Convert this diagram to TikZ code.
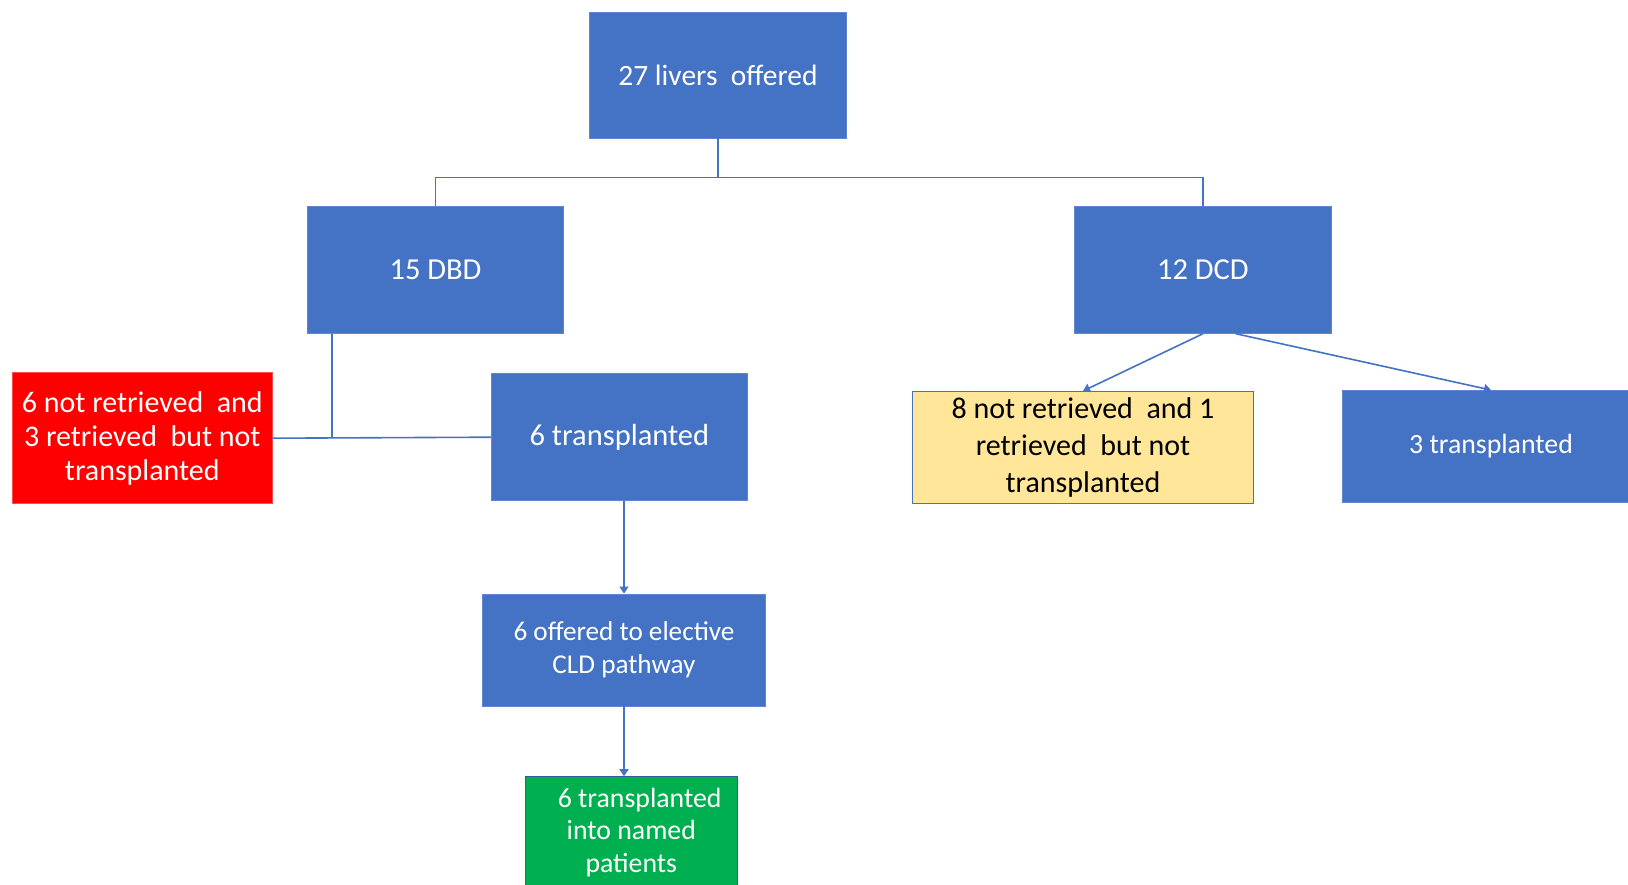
\documentclass[tikz,border=0pt]{standalone}
\usepackage{fontspec}
\setmainfont{Carlito}
\usetikzlibrary{arrows.meta}
\definecolor{obl}{HTML}{4472C4}
\definecolor{oedge}{HTML}{5F86CE}
\definecolor{ored}{HTML}{FF0000}
\definecolor{oyel}{HTML}{FFE699}
\definecolor{ogrn}{HTML}{00B050}
\tikzset{
  bluebox/.style={rectangle, inner sep=0pt, fill=obl, draw=oedge, line width=0.8pt, text=white, align=center, font=\fontsize{30}{34}\selectfont},
  redbox/.style={bluebox, fill=ored, draw=ored!70!white},
  yelbox/.style={bluebox, fill=oyel, draw=obl, text=black, font=\fontsize{30}{37}\selectfont},
  grnbox/.style={bluebox, fill=ogrn, draw=obl!80!black, font=\fontsize{27.8}{32.5}\selectfont},
  conn/.style={draw=obl, line width=1.6pt},
  arr/.style={conn, -{Triangle[length=7pt,width=9pt]}}
}
\begin{document}
\begin{tikzpicture}[x=1pt,y=-1pt]
\useasboundingbox (0,0) rectangle (1628,885);
\clip (0,0) rectangle (1628,885);
\fill[white] (0,0) rectangle (1628,885);

\node[bluebox, minimum width=256.5pt, minimum height=125.6pt, font=\fontsize{29.5}{34}\selectfont] (top) at (718,75.3) {27 livers\ \ offered};
\node[bluebox, minimum width=256.5pt, minimum height=126.7pt, font=\fontsize{30.5}{34}\selectfont] (dbd) at (435.5,270) {15 DBD};
\node[bluebox, minimum width=256.5pt, minimum height=126.7pt, font=\fontsize{30.5}{34}\selectfont] (dcd) at (1202.9,270) {12 DCD};
\node[redbox, minimum width=259.5pt, minimum height=131pt] (red) at (142.3,438.2) {6 not retrieved\ \ and\\3 retrieved\ \ but not\\transplanted};
\node[bluebox, minimum width=256.5pt, minimum height=126.7pt, font=\fontsize{30.5}{34}\selectfont] (t6) at (619.4,437.2) {6 transplanted};
\node[bluebox, minimum width=282.4pt, minimum height=112.1pt, font=\fontsize{27.2}{33}\selectfont] (cld) at (624,650) {6 offered to elective\\CLD pathway};
\node[grnbox, minimum width=211.8pt, minimum height=111pt] (grn) at (631.3,832.1) {\hspace*{0.6em}6 transplanted\\into named\\patients};
\node[yelbox, minimum width=340.5pt, minimum height=112.2pt] (yel) at (1083,447.5) {8 not retrieved\ \ and 1\\retrieved\ \ but not\\transplanted};
\node[bluebox, minimum width=297pt, minimum height=112.1pt, font=\fontsize{27.8}{33}\selectfont] (t3) at (1491,446.5) {3 transplanted};

\coordinate (bus) at (718,177.5);
\draw[conn] (top.south) -- (bus);
\draw[conn] (dbd.north) |- (bus) -| (dcd.north);

\coordinate (j) at (332.3,437.5);
\draw[conn, line width=2.2pt] (j |- dbd.south) -- (j);
\draw[conn] (red.east) -- (t6.west);

\draw[arr] (cld.north |- t6.south) -- (cld.north);
\draw[arr] (cld.south) -- (cld.south |- grn.north);

\draw[arr] (dcd.south) -- (yel.north);
\draw[arr] ([xshift=33pt]dcd.south) -- (t3.north);
\end{tikzpicture}
\end{document}
